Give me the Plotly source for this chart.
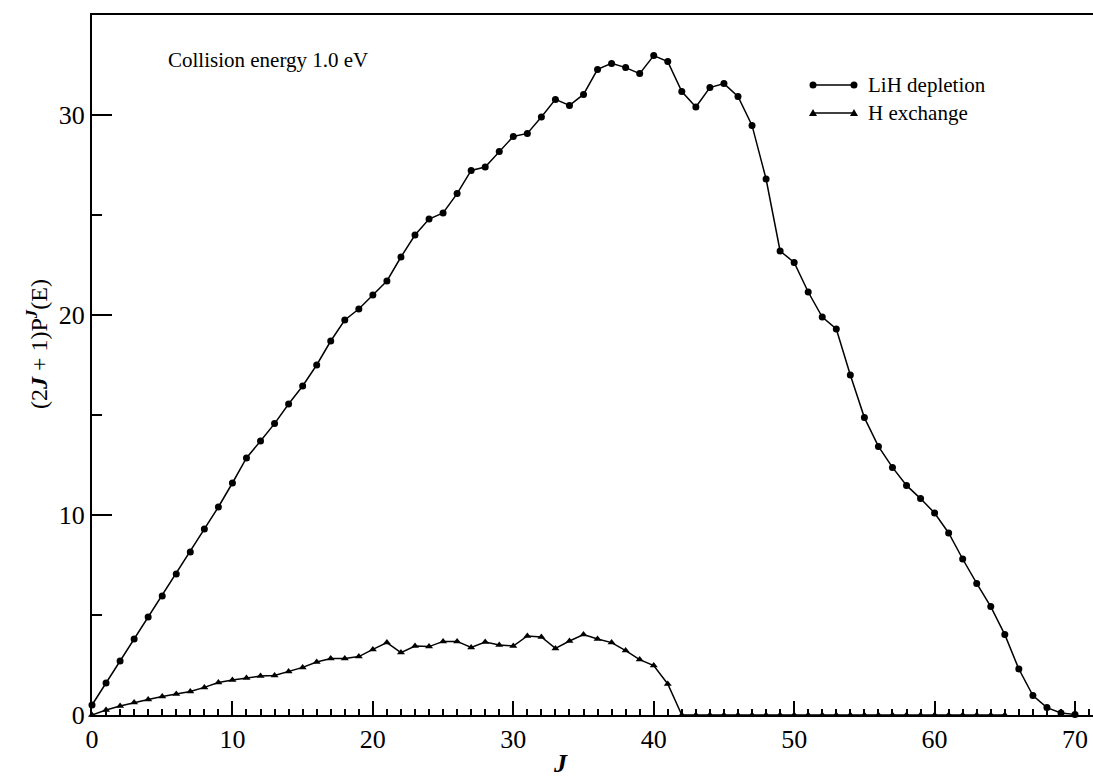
import plotly.graph_objects as go

# Total angular-momentum index J
j_lih = list(range(0, 71))
# (2J+1) P^J(E) for LiH depletion, J = 0..70
p_lih = [0.5, 1.6, 2.7, 3.8, 4.9, 5.95, 7.05, 8.15, 9.3, 10.4,
         11.6, 12.85, 13.7, 14.57, 15.55, 16.45, 17.5, 18.7, 19.75, 20.3,
         21.0, 21.7, 22.9, 24.0, 24.8, 25.1, 26.07, 27.23, 27.4, 28.17,
         28.93, 29.08, 29.9, 30.78, 30.48, 31.03, 32.28, 32.58, 32.37, 32.07,
         32.97, 32.67, 31.17, 30.4, 31.37, 31.57, 30.93, 29.48, 26.8, 23.2,
         22.63, 21.15, 19.9, 19.3, 17.0, 14.87, 13.43, 12.38, 11.48, 10.82,
         10.1, 9.1, 7.8, 6.58, 5.42, 4.02, 2.3, 0.97, 0.37, 0.1,
         0.03]

j_hex = list(range(0, 66))
# (2J+1) P^J(E) for H exchange, J = 0..65
p_hex = [0.0, 0.25, 0.45, 0.62, 0.78, 0.92, 1.05, 1.18, 1.38, 1.62,
         1.75, 1.85, 1.95, 1.98, 2.18, 2.38, 2.65, 2.82, 2.82, 2.92,
         3.28, 3.62, 3.12, 3.45, 3.42, 3.68, 3.68, 3.38, 3.65, 3.5,
         3.45, 3.95, 3.9, 3.33, 3.7, 4.02, 3.8, 3.62, 3.22, 2.77,
         2.47, 1.55, 0.0] + [0.0] * 23

series_names = ["LiH depletion", "H exchange"]
note_text = "Collision energy 1.0 eV"

FONT = "Liberation Serif, Times New Roman, serif"
W, H = 1093, 778
L, R, T, B = 92, 0, 15, 63

fig = go.Figure()
fig.add_trace(go.Scatter(
    x=j_lih, y=p_lih, mode="lines+markers", name=series_names[0],
    line=dict(color="black", width=1.5),
    marker=dict(symbol="circle", size=7, color="black"),
    cliponaxis=False, showlegend=False))
fig.add_trace(go.Scatter(
    x=j_hex, y=p_hex, mode="lines+markers", name=series_names[1],
    line=dict(color="black", width=1.5),
    marker=dict(symbol="triangle-up", size=7, color="black"),
    cliponaxis=False, showlegend=False))

pw, ph = W - L - R, H - T - B


def px(x):
    return (x - L) / pw


def py(y):
    return (T + ph - y) / ph


shapes = []
annotations = []
# hand-drawn key: a short line with a marker at each end
key_x0, key_x1 = 813, 854
for name, ky, sym in [(series_names[0], 85, "circle"), (series_names[1], 113, "triangle")]:
    shapes.append(dict(type="line", xref="paper", yref="paper",
                       x0=px(key_x0), x1=px(key_x1), y0=py(ky), y1=py(ky),
                       line=dict(color="black", width=1.5)))
    for cx in (key_x0, key_x1):
        if sym == "circle":
            r = 3.5
            shapes.append(dict(type="circle", xref="paper", yref="paper",
                               x0=px(cx - r), x1=px(cx + r), y0=py(ky + r), y1=py(ky - r),
                               fillcolor="black", line=dict(color="black", width=0)))
        else:
            path = "M {:.5f},{:.5f} L {:.5f},{:.5f} L {:.5f},{:.5f} Z".format(
                px(cx - 4), py(ky + 3), px(cx + 4), py(ky + 3), px(cx), py(ky - 4))
            shapes.append(dict(type="path", xref="paper", yref="paper", path=path,
                               fillcolor="black", line=dict(color="black", width=0)))
    annotations.append(dict(text=name, xref="paper", yref="paper",
                            x=px(866), y=py(ky), xanchor="left", yanchor="middle",
                            showarrow=False, font=dict(family=FONT, size=21, color="black")))

annotations.append(dict(text=note_text, xref="paper", yref="paper",
                        x=px(166), y=py(60), xanchor="left", yanchor="middle",
                        showarrow=False, font=dict(family=FONT, size=21, color="black")))

# axis titles
annotations.append(dict(text="<b><i>J</i></b>", xref="paper", yref="paper",
                        x=px(560), y=py(763), xanchor="center", yanchor="middle",
                        showarrow=False, font=dict(family=FONT, size=26, color="black")))
annotations.append(dict(text="(2<b><i>J</i></b> + 1)P<sup><b><i>J</i></b></sup>(E)",
                        xref="paper", yref="paper", textangle=-90,
                        x=px(37), y=py(344), xanchor="center", yanchor="middle",
                        showarrow=False, font=dict(family=FONT, size=24, color="black")))

fig.update_layout(
    width=W, height=H,
    margin=dict(l=L, r=R, t=T, b=B, pad=0),
    paper_bgcolor="white", plot_bgcolor="white",
    font=dict(family=FONT, size=26, color="black"),
    shapes=shapes, annotations=annotations,
    xaxis=dict(range=[0, 71.28], tickmode="linear", tick0=0, dtick=10,
               ticks="inside", ticklen=14, tickwidth=1.5, tickcolor="black",
               minor=dict(dtick=1, ticks="inside", ticklen=6, tickwidth=1.5, tickcolor="black"),
               showline=True, linecolor="black", linewidth=2, mirror=True,
               showgrid=False, zeroline=False,
               tickfont=dict(family=FONT, size=26, color="black")),
    yaxis=dict(range=[0, 35], tickmode="linear", tick0=0, dtick=10,
               ticks="inside", ticklen=20, tickwidth=1.5, tickcolor="black",
               minor=dict(dtick=5, ticks="inside", ticklen=10, tickwidth=1.5, tickcolor="black"),
               showline=True, linecolor="black", linewidth=2, mirror=False,
               showgrid=False, zeroline=False,
               tickfont=dict(family=FONT, size=26, color="black")),
)

fig.write_html("out.html")
